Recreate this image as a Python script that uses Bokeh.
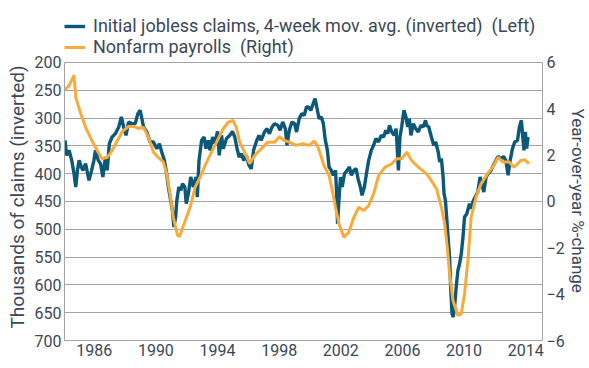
from bokeh.plotting import figure
from bokeh.models import Range1d, LinearAxis, FixedTicker, Legend, LegendItem, Title
from bokeh.embed import file_html
from bokeh.resources import INLINE

# Initial jobless claims, 4-week moving average (thousands), decimal year
claims_year = [
    1984.11, 1984.20, 1984.37, 1984.54, 1984.69, 1984.80, 1984.91, 1985.02, 1985.16, 1985.27,
    1985.44, 1985.55, 1985.66, 1985.83, 1985.98, 1986.08, 1986.26, 1986.41, 1986.56, 1986.73,
    1986.84, 1986.98, 1987.16, 1987.37, 1987.59, 1987.76, 1987.91, 1988.06, 1988.23, 1988.45,
    1988.66, 1988.83, 1988.98, 1989.09, 1989.20, 1989.41, 1989.62, 1989.84, 1990.06, 1990.23,
    1990.38, 1990.55, 1990.70, 1990.81, 1990.96, 1991.07, 1991.17, 1991.28, 1991.36, 1991.49,
    1991.62, 1991.73, 1991.88, 1991.97, 1992.11, 1992.26, 1992.44, 1992.61, 1992.69, 1992.80,
    1992.97, 1993.13, 1993.25, 1993.40, 1993.51, 1993.68, 1993.83, 1994.00, 1994.11, 1994.26,
    1994.37, 1994.58, 1994.80, 1994.97, 1995.12, 1995.27, 1995.40, 1995.55, 1995.70, 1995.87,
    1996.04, 1996.19, 1996.34, 1996.51, 1996.69, 1996.83, 1997.05, 1997.20, 1997.37, 1997.54,
    1997.70, 1997.91, 1998.06, 1998.23, 1998.40, 1998.51, 1998.66, 1998.83, 1999.00, 1999.13,
    1999.30, 1999.47, 1999.63, 1999.77, 1999.90, 2000.05, 2000.21, 2000.33, 2000.44, 2000.59,
    2000.74, 2000.87, 2000.98, 2001.13, 2001.24, 2001.38, 2001.51, 2001.66, 2001.73, 2001.79,
    2001.88, 2001.98, 2002.09, 2002.24, 2002.41, 2002.56, 2002.69, 2002.85, 2002.99, 2003.12,
    2003.27, 2003.38, 2003.53, 2003.70, 2003.81, 2003.98, 2004.13, 2004.28, 2004.45, 2004.62,
    2004.78, 2004.92, 2005.05, 2005.16, 2005.31, 2005.46, 2005.59, 2005.74, 2005.84, 2005.95,
    2006.10, 2006.23, 2006.34, 2006.45, 2006.55, 2006.71, 2006.86, 2007.03, 2007.20, 2007.35,
    2007.50, 2007.56, 2007.71, 2007.88, 2008.03, 2008.16, 2008.32, 2008.42, 2008.53, 2008.64,
    2008.70, 2008.79, 2008.87, 2008.96, 2009.06, 2009.13, 2009.22, 2009.30, 2009.38, 2009.49,
    2009.60, 2009.71, 2009.82, 2009.93, 2010.03, 2010.18, 2010.35, 2010.46, 2010.57, 2010.72,
    2010.89, 2011.04, 2011.15, 2011.28, 2011.43, 2011.57, 2011.75, 2011.90, 2012.07, 2012.22,
    2012.39, 2012.56, 2012.71, 2012.86, 2012.99, 2013.14, 2013.29, 2013.47, 2013.59, 2013.72,
    2013.81, 2013.89, 2013.98, 2014.06, 2014.15,
]
claims_k = [
    340, 367, 358, 376, 400, 424, 394, 376, 388, 394,
    382, 397, 412, 394, 376, 358, 376, 382, 406, 370,
    394, 346, 334, 328, 316, 298, 316, 331, 307, 310,
    310, 292, 286, 301, 316, 325, 343, 343, 355, 346,
    361, 376, 400, 424, 448, 466, 496, 478, 448, 424,
    430, 418, 424, 454, 436, 406, 424, 406, 442, 376,
    340, 334, 355, 340, 358, 334, 346, 324, 367, 331,
    355, 337, 331, 324, 334, 355, 370, 364, 376, 367,
    385, 391, 358, 343, 331, 340, 325, 319, 328, 316,
    310, 313, 322, 307, 319, 349, 322, 307, 310, 325,
    301, 292, 295, 280, 280, 286, 274, 265, 280, 301,
    298, 310, 337, 358, 388, 394, 403, 394, 436, 490,
    448, 406, 424, 400, 394, 388, 403, 394, 391, 409,
    424, 439, 424, 394, 376, 358, 349, 337, 343, 331,
    334, 322, 328, 313, 325, 331, 319, 394, 334, 316,
    286, 298, 316, 301, 331, 310, 319, 325, 313, 316,
    304, 313, 316, 334, 349, 343, 361, 379, 373, 406,
    436, 448, 478, 514, 550, 604, 652, 658, 640, 604,
    574, 562, 544, 514, 478, 472, 454, 463, 451, 442,
    433, 406, 418, 433, 406, 400, 394, 385, 376, 369,
    373, 369, 376, 403, 376, 355, 343, 340, 316, 304,
    334, 358, 325, 355, 334,
]

# Nonfarm payrolls, year-over-year % change
payrolls_year = [
    1984.05, 1984.37, 1984.69, 1984.80, 1985.12, 1985.44, 1985.87, 1986.19, 1986.51, 1986.84,
    1987.16, 1987.48, 1987.80, 1988.23, 1988.56, 1988.88, 1989.20, 1989.52, 1989.84, 1990.16,
    1990.49, 1990.70, 1990.91, 1991.13, 1991.41, 1991.55, 1991.79, 1992.22, 1992.55, 1992.87,
    1993.19, 1993.61, 1993.94, 1994.37, 1994.69, 1995.01, 1995.22, 1995.44, 1995.76, 1996.09,
    1996.41, 1996.83, 1997.26, 1997.70, 1998.02, 1998.34, 1998.66, 1999.09, 1999.52, 1999.95,
    2000.27, 2000.48, 2000.70, 2000.91, 2001.24, 2001.45, 2001.66, 2001.88, 2002.20, 2002.52,
    2002.85, 2003.17, 2003.49, 2003.81, 2004.13, 2004.45, 2004.88, 2005.31, 2005.63, 2005.95,
    2006.28, 2006.60, 2007.03, 2007.56, 2007.88, 2008.21, 2008.53, 2008.74, 2008.91, 2009.06,
    2009.28, 2009.60, 2009.82, 2010.03, 2010.25, 2010.46, 2010.78, 2011.10, 2011.53, 2011.86,
    2012.22, 2012.50, 2012.93, 2013.25, 2013.68, 2013.94, 2014.21,
]
payrolls_pct = [
    4.8, 5.0, 5.45, 4.5, 3.8, 3.2, 2.6, 2.2, 1.85, 1.9,
    2.2, 2.6, 3.0, 3.24, 3.24, 3.15, 3.2, 2.77, 2.13, 1.9,
    1.7, 1.2, 0.35, -0.68, -1.47, -1.5, -1.04, -0.25, 0.62, 1.05,
    1.55, 2.13, 2.56, 3.14, 3.42, 3.5, 3.2, 2.56, 2.13, 1.63,
    1.99, 2.27, 2.56, 2.56, 2.8, 2.63, 2.56, 2.42, 2.49, 2.42,
    2.6, 2.42, 1.99, 1.55, 1.12, 0.47, -0.25, -0.96, -1.54, -1.33,
    -0.68, -0.25, -0.39, -0.17, 0.33, 1.12, 1.48, 1.63, 1.84, 1.84,
    2.13, 1.77, 1.48, 1.2, 0.9, 0.55, -0.25, -0.96, -1.97, -3.12,
    -4.27, -4.92, -4.85, -3.98, -2.55, -0.68, 0.19, 0.76, 1.2, 1.48,
    1.91, 1.7, 1.7, 1.48, 1.77, 1.8, 1.63,
]

left_ticks = [200, 250, 300, 350, 400, 450, 500, 550, 600, 650, 700]
right_ticks = [-6, -4, -2, 0, 2, 4, 6]
year_ticks = [1986, 1990, 1994, 1998, 2002, 2006, 2010, 2014]

TEAL = "#0b5878"
ORANGE = "#f8aa3a"
TEXT = "#3b4757"
GRID = "#a3a3a3"
FONT = "Roboto"

# frame extends above the 200 line to host the legend (which is clipped to the frame)
p = figure(width=589, height=368, output_backend="svg", toolbar_location=None,
           x_range=Range1d(1984.07, 2015.09), y_range=Range1d(700, 113.7),
           min_border_left=60, min_border_right=47, min_border_top=14, min_border_bottom=28)
p.extra_y_ranges = {"pct": Range1d(-6, 8.07)}
p.outline_line_color = None
p.background_fill_color = "white"
p.border_fill_color = "white"

r1 = p.line(claims_year, claims_k, line_color=TEAL, line_width=3.4)
r2 = p.line(payrolls_year, payrolls_pct, y_range_name="pct", line_color=ORANGE, line_width=3)


def style_axis(ax):
    ax.axis_line_color = GRID
    ax.major_tick_line_color = None
    ax.minor_tick_line_color = None
    ax.major_tick_out = 0
    ax.major_tick_in = 0
    ax.minor_tick_out = 0
    ax.minor_tick_in = 0
    ax.major_label_text_font = FONT
    ax.major_label_text_font_size = "16px"
    ax.major_label_text_color = TEXT


style_axis(p.xaxis[0])
style_axis(p.yaxis[0])
p.xaxis.ticker = FixedTicker(ticks=year_ticks)
p.xaxis.major_label_standoff = 3
p.yaxis.ticker = FixedTicker(ticks=left_ticks)
p.yaxis.bounds = (200, 700)
p.yaxis.major_label_standoff = 3

# right border line (limited to the 200..700 span)
border_ax = LinearAxis(ticker=FixedTicker(ticks=[]), bounds=(200, 700))
style_axis(border_ax)
border_ax.major_label_standoff = 0
border_ax.axis_label_standoff = 0
border_ax.major_label_text_font_size = "0px"
p.add_layout(border_ax, "right")

# right percentage axis
rax = LinearAxis(y_range_name="pct", ticker=FixedTicker(ticks=right_ticks))
style_axis(rax)
rax.axis_line_color = None
rax.major_label_standoff = 4
rax.axis_label_standoff = 0
p.add_layout(rax, "right")

left_title = Title(text="Thousands of claims  (inverted)", align="left", offset=12, standoff=6,
                   text_font=FONT, text_font_size="19px", text_font_style="normal", text_color=TEXT)
p.add_layout(left_title, "left")
right_title = Title(text="Year-over-year %-change", align="left", offset=94, standoff=0,
                    text_font=FONT, text_font_size="17px", text_font_style="normal", text_color=TEXT)
p.add_layout(right_title, "right")

p.xgrid.grid_line_color = None
p.ygrid.grid_line_color = GRID
p.ygrid.grid_line_width = 1

legend = Legend(items=[
    LegendItem(label="Initial jobless claims, 4-week mov. avg. (inverted)  (Left)", renderers=[r1]),
    LegendItem(label="Nonfarm payrolls  (Right)", renderers=[r2]),
], location=(0, 283), orientation="vertical", margin=0, padding=0, spacing=0,
    label_height=20, glyph_height=20, glyph_width=21, label_standoff=8,
    border_line_alpha=0, background_fill_alpha=0,
    label_text_font=FONT, label_text_font_size="18px", label_text_color=TEXT)
p.add_layout(legend, "center")

open("out.html", "w").write(file_html(p, INLINE))
